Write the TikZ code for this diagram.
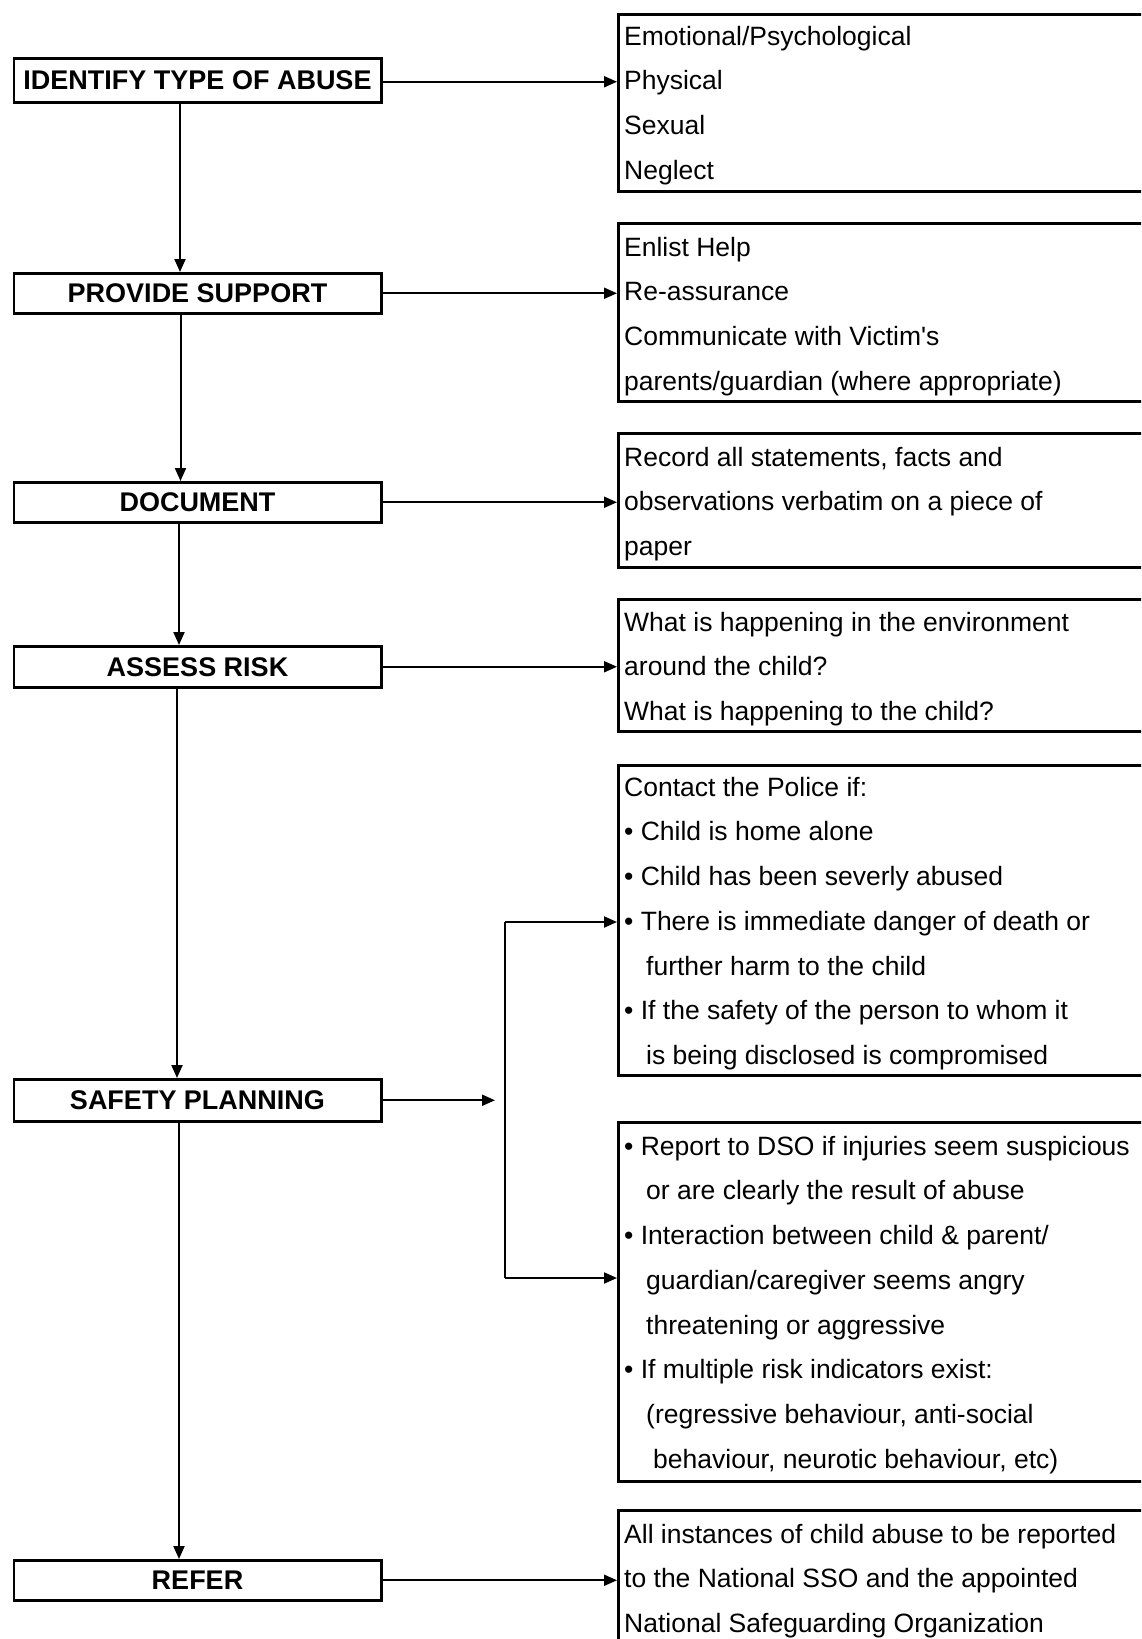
\documentclass[tikz,border=0pt]{standalone}
\usepackage{fontspec}
\setmainfont{Liberation Sans}
\usetikzlibrary{arrows.meta}
\newcommand{\firststrut}{\rule{0pt}{20pt}}
\newcommand{\ind}[1]{\hspace*{#1pt}}
\begin{document}
\begin{tikzpicture}[x=1pt,y=-1pt,
  lbox/.style={draw, line width=2.5pt, minimum width=367.5pt, minimum height=#1, inner sep=0pt, anchor=north west,
    font=\bfseries\fontsize{27pt}{30pt}\selectfont},
  rbox/.style={draw, line width=3pt, minimum width=560pt, minimum height=#1, inner sep=0pt, anchor=north west},
  rtext/.style={anchor=north west, inner sep=0pt, align=left, font=\fontsize{26.5pt}{44.7pt}\selectfont},
  conn/.style={line width=2pt, -{Triangle[length=13pt,width=11pt]}},
  plain/.style={line width=2pt}
]
\useasboundingbox (0,0) rectangle (1141,1639);
\clip (0,0) rectangle (1141,1639);
\fill[white] (0,0) rectangle (1141,1639);

% left boxes
\node[lbox=44pt] (b1) at (12.5,57) {IDENTIFY TYPE OF ABUSE};
\node[lbox=40pt] (b2) at (12.5,272) {PROVIDE SUPPORT};
\node[lbox=40pt] (b3) at (12.5,481) {DOCUMENT};
\node[lbox=41pt] (b4) at (12.5,645) {ASSESS RISK};
\node[lbox=42pt] (b5) at (12.5,1078) {SAFETY PLANNING};
\node[lbox=40pt] (b6) at (12.5,1559) {REFER};

% right boxes
\node[rbox=177.5pt] (r1) at (617,12.5) {};
\node[rbox=178pt] (r2) at (617,222) {};
\node[rbox=134pt] (r3) at (617,432) {};
\node[rbox=132pt] (r4) at (617,598) {};
\node[rbox=310pt] (r5) at (617,764) {};
\node[rbox=359pt] (r6) at (617,1121) {};
\node[rbox=200pt] (r7) at (617,1509) {};

% right texts
\node[rtext] (t1) at (624,25) {\firststrut Emotional/Psychological\\Physical\\Sexual\\Neglect};
\node[rtext] (t2) at (624,236) {\firststrut Enlist Help\\Re-assurance\\Communicate with Victim\textquotesingle s\\parents/guardian (where appropriate)};
\node[rtext] (t3) at (624,446) {\firststrut Record all statements, facts and\\observations verbatim on a piece of\\paper};
\node[rtext] (t4) at (624,611) {\firststrut What is happening in the environment\\around the child?\\What is happening to the child?};
\node[rtext] (t5) at (624,776) {\firststrut Contact the Police if:\\• Child is home alone\\• Child has been severly abused\\• There is immediate danger of death or\\\ind{22}further harm to the child\\• If the safety of the person to whom it\\\ind{22}is being disclosed is compromised};
\node[rtext] (t6) at (624,1135) {\firststrut • Report to DSO if injuries seem suspicious\\\ind{22}or are clearly the result of abuse\\• Interaction between child \& parent/\\\ind{22}guardian/caregiver seems angry\\\ind{22}threatening or aggressive\\• If multiple risk indicators exist:\\\ind{22}(regressive behaviour, anti-social\\\ind{29}behaviour, neurotic behaviour, etc)};
\node[rtext] (t7) at (624,1523) {\firststrut All instances of child abuse to be reported\\to the National SSO and the appointed\\National Safeguarding Organization};

% vertical flow
\draw[conn] ([xshift=167.5pt]b1.south west) -- ([xshift=167.5pt]b2.north west);
\draw[conn] ([xshift=168pt]b2.south west) -- ([xshift=168pt]b3.north west);
\draw[conn] ([xshift=166.5pt]b3.south west) -- ([xshift=166.5pt]b4.north west);
\draw[conn] ([xshift=164.5pt]b4.south west) -- ([xshift=164.5pt]b5.north west);
\draw[conn] ([xshift=166.5pt]b5.south west) -- ([xshift=166.5pt]b6.north west);

% horizontal arrows
\draw[conn] ([yshift=-1.5pt]b1.east) -- ([yshift=-1.5pt]b1.east -| r1.west);
\draw[conn] (b2.east) -- (b2.east -| r2.west);
\draw[conn] (b3.east) -- (b3.east -| r3.west);
\draw[conn] (b4.east) -- (b4.east -| r4.west);
\draw[conn] (b6.east) -- (b6.east -| r7.west);

% safety planning split
\coordinate (sp) at (495,1099);
\coordinate (bt) at (505,922);
\coordinate (bb) at (505,1278);
\draw[conn] (b5.east) -- (b5.east -| sp);
\draw[plain] (bt) -- (bb);
\draw[conn] (bt) -- (bt -| r5.west);
\draw[conn] (bb) -- (bb -| r6.west);
\end{tikzpicture}
\end{document}
